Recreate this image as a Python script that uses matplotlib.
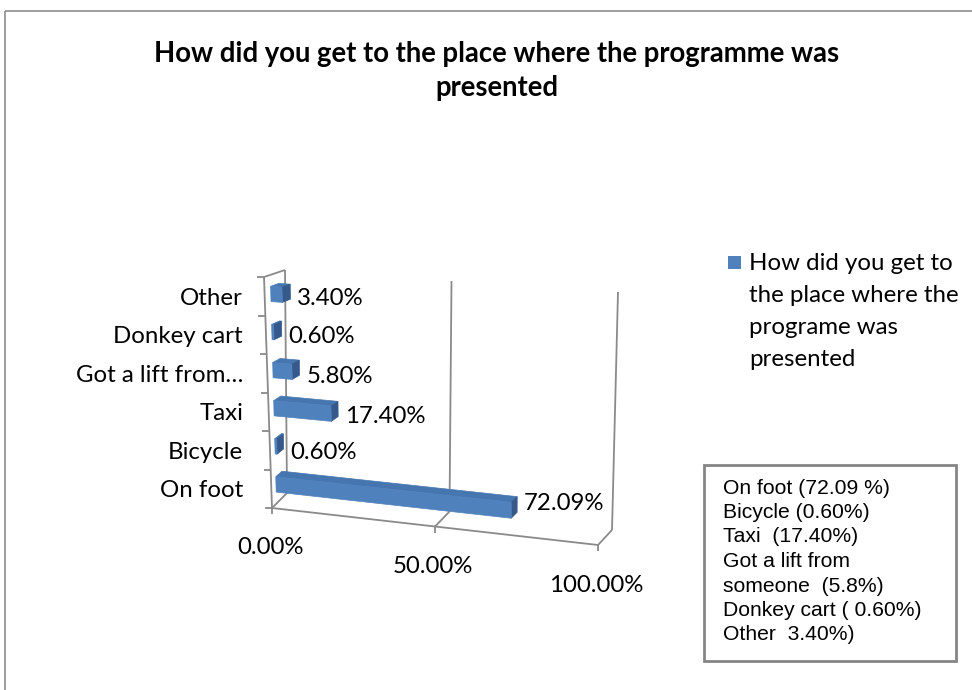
import matplotlib
matplotlib.use("Agg")
import matplotlib.pyplot as plt
from matplotlib.patches import Polygon, Rectangle

categories = ["On foot", "Bicycle", "Taxi", "Got a lift from…", "Donkey cart", "Other"]
values = [72.09, 0.60, 17.40, 5.80, 0.60, 3.40]
axis_ticks = [0, 50, 100]
series_name = "How did you get to\nthe place where the\nprograme was\npresented"
title = "How did you get to the place where the programme was\npresented"
note_lines = [
    "On foot (72.09 %)",
    "Bicycle (0.60%)",
    "Taxi  (17.40%)",
    "Got a lift from",
    "someone  (5.8%)",
    "Donkey cart ( 0.60%)",
    "Other  3.40%)",
]

# corners of the 3-D plot box on the canvas, keyed by (value, height, depth) in 0..1
BOX = {
    (0, 0, 0): (272, 508), (1, 0, 0): (598, 545),
    (0, 0, 1): (287, 493), (1, 0, 1): (612, 530),
    (0, 1, 0): (264, 277), (1, 1, 0): (597, 300),
    (0, 1, 1): (285, 270), (1, 1, 1): (618, 292),
}
VMAX = 100.0
NCAT = len(categories)


def proj(v, h, d):
    """value in %, height in category slots, depth 0 (front) .. 1 (back)"""
    u, w = v / VMAX, h / NCAT
    x = y = 0.0
    for (a, b, c), (px, py) in BOX.items():
        k = (u if a else 1 - u) * (w if b else 1 - w) * (d if c else 1 - d)
        x += k * px
        y += k * py
    return x, y


fig = plt.figure(figsize=(9.72, 6.9), dpi=100)
ax = fig.add_axes([0, 0, 1, 1])
ax.set_xlim(0, 972)
ax.set_ylim(690, 0)
ax.axis("off")

ax.add_patch(Rectangle((5, 11), 1000, 700, fill=False, ec="#8c8c8c", lw=1.2))

ax.text(497, 54, title.split("\n")[0], ha="center", va="center", fontsize=19.8,
        fontweight="bold", family="Lato")
ax.text(497, 88, title.split("\n")[1], ha="center", va="center", fontsize=19.8,
        fontweight="bold", family="Lato")

grid = dict(color="#8a8a8a", lw=1.3, solid_capstyle="butt", zorder=1)
lab = dict(fontsize=17.3, family="Lato")

# back wall and floor gridlines
for t in axis_ticks:
    ax.plot(*zip(proj(t, 0, 1), proj(t, NCAT, 1)), **grid)
    ax.plot(*zip(proj(t, 0, 0), proj(t, 0, 1)), **grid)
    x0, y0 = proj(t, 0, 0)
    ax.plot([x0, x0], [y0, y0 + 6], **grid)
    ax.text(x0 - 2, y0 + 40, f"{t:.2f}%", ha="center", va="center", **lab)

# side wall and axes
ax.plot(*zip(proj(0, 0, 0), proj(VMAX, 0, 0)), **grid)
ax.plot(*zip(proj(0, 0, 0), proj(0, NCAT, 0)), **grid)
ax.plot(*zip(proj(0, NCAT, 0), proj(0, NCAT, 1)), **grid)
for i in range(NCAT + 1):
    x0, y0 = proj(0, i, 0)
    ax.plot([x0 - 7, x0], [y0, y0], **grid)

front_c, top_c, side_c = "#4f81bd", "#4676b0", "#35598a"
h0, h1 = 0.3, 0.7   # bar thickness inside a slot
d0, d1 = 0.3, 0.7   # bar depth

for i, (cat, v) in enumerate(zip(categories, values)):
    lo, hi = i + h0, i + h1
    front = [proj(0, lo, d0), proj(v, lo, d0), proj(v, hi, d0), proj(0, hi, d0)]
    top = [proj(0, hi, d0), proj(v, hi, d0), proj(v, hi, d1), proj(0, hi, d1)]
    side = [proj(v, lo, d0), proj(v, lo, d1), proj(v, hi, d1), proj(v, hi, d0)]
    for pts, c in ((top, top_c), (side, side_c), (front, front_c)):
        ax.add_patch(Polygon(pts, closed=True, fc=c, ec=c, lw=0.5, zorder=3))

    cx, cy = proj(0, i + 0.5, 0)
    ax.text(243, cy + 2, cat, ha="right", va="center", **lab)

    lx, _ = proj(v, i + 0.5, d1)
    _, ly = proj(v / 2, i + 0.5, 0)
    ax.text(lx + 7, ly + 2, f"{v:.2f}%", ha="left", va="center", zorder=4, **lab)

# legend
ax.add_patch(Rectangle((728, 256), 13, 13, fc=front_c, ec="none"))
for k, line in enumerate(series_name.split("\n")):
    ax.text(749, 264 + 31.7 * k, line, ha="left", va="center", **lab)

# note box
ax.add_patch(Rectangle((704, 465), 252, 196, fill=False, ec="#858585", lw=2))
for k, line in enumerate(note_lines):
    ax.text(723, 488 + 24.5 * k, line, ha="left", va="center",
            fontsize=15.2, family="Liberation Sans")

fig.savefig("out.png", dpi=100)
